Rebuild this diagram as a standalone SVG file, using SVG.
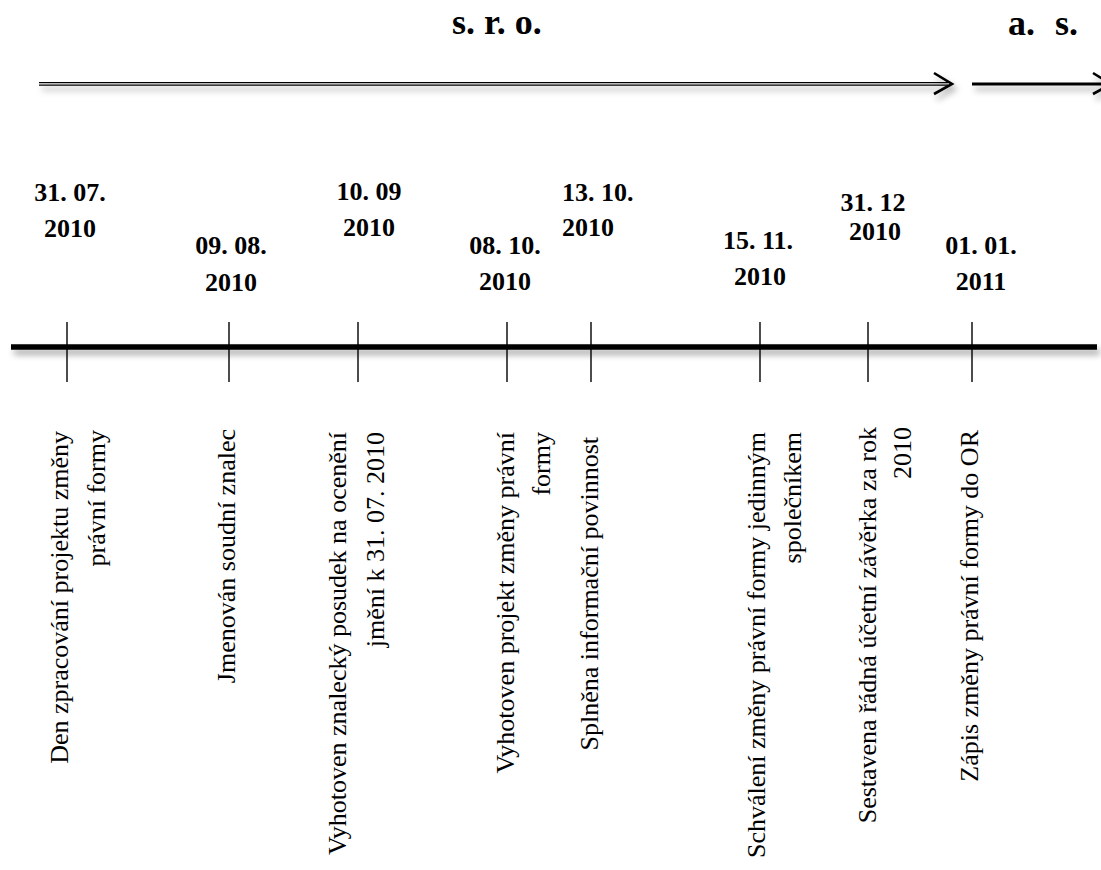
<svg xmlns="http://www.w3.org/2000/svg" width="1101" height="870" viewBox="0 0 1101 870">
<style>
.title{font-family:"Liberation Serif","Times New Roman",serif;font-weight:bold;font-size:36px;fill:#000}
.date{font-family:"Liberation Serif","Times New Roman",serif;font-weight:bold;font-size:26px;fill:#000;text-anchor:middle}
.lbl{font-family:"Liberation Serif","Times New Roman",serif;font-size:26px;fill:#000;text-anchor:end}
.tick{stroke:#000;stroke-width:1.4;fill:none}
.ln{stroke:#000;fill:none}
</style>
<defs>
<filter id="sh" filterUnits="userSpaceOnUse" x="0" y="0" width="1101" height="870">
<feDropShadow dx="3" dy="5" stdDeviation="3" flood-color="#000" flood-opacity="0.35"/>
</filter>
</defs>
<rect width="1101" height="870" fill="#fff"/>
<g id="titles">
<text class="title" x="452" y="34">s. r. o.</text>
<text class="title" x="1008" y="35">a. <tspan x="1055">s.</tspan></text>
</g>
<g id="connectors">
<g filter="url(#sh)">
<line class="ln" x1="39" y1="82.6" x2="948" y2="82.6" stroke-width="1.3"/>
<line class="ln" x1="39" y1="85.2" x2="948" y2="85.2" stroke-width="1.3"/>
<polyline class="ln" points="934,73 952,84 934,94" stroke-width="2.6"/>
</g>
<g filter="url(#sh)">
<line class="ln" x1="972" y1="84" x2="1104" y2="84" stroke-width="3"/>
<polyline class="ln" points="1093,73 1111,84 1093,94" stroke-width="2.6"/>
</g>
<line class="ln" x1="11" y1="347" x2="1097" y2="347" stroke-width="5.5" filter="url(#sh)"/>
<line class="tick" x1="67" y1="322" x2="67" y2="382"/>
<line class="tick" x1="229" y1="322" x2="229" y2="382"/>
<line class="tick" x1="358" y1="322" x2="358" y2="382"/>
<line class="tick" x1="507" y1="322" x2="507" y2="382"/>
<line class="tick" x1="591" y1="322" x2="591" y2="382"/>
<line class="tick" x1="760" y1="322" x2="760" y2="382"/>
<line class="tick" x1="868" y1="322" x2="868" y2="382"/>
<line class="tick" x1="972" y1="322" x2="972" y2="382"/>
</g>
<g id="n1">
<text class="date" x="70" y="201">31. 07.</text>
<text class="date" x="70" y="237">2010</text>
<text class="lbl" transform="translate(68,431) rotate(-90)">Den zpracování projektu změny</text>
<text class="lbl" transform="translate(105,430) rotate(-90)">právní formy</text>
</g>
<g id="n2">
<text class="date" x="231" y="254">09. 08.</text>
<text class="date" x="231" y="291">2010</text>
<text class="lbl" transform="translate(235,429) rotate(-90)">Jmenován soudní znalec</text>
</g>
<g id="n3">
<text class="date" x="369" y="200">10. 09</text>
<text class="date" x="369" y="236">2010</text>
<text class="lbl" transform="translate(346,432) rotate(-90)">Vyhotoven znalecký posudek na ocenění</text>
<text class="lbl" transform="translate(384,432) rotate(-90)">jmění k 31. 07. 2010</text>
</g>
<g id="n4">
<text class="date" x="505" y="254">08. 10.</text>
<text class="date" x="505" y="290">2010</text>
<text class="lbl" transform="translate(514,432) rotate(-90)">Vyhotoven projekt změny právní</text>
<text class="lbl" transform="translate(550,432) rotate(-90)">formy</text>
</g>
<g id="n5">
<text class="date" x="562" y="201" style="text-anchor:start">13. 10.</text>
<text class="date" x="562" y="236" style="text-anchor:start">2010</text>
<text class="lbl" transform="translate(598,437) rotate(-90)">Splněna informační povinnost</text>
</g>
<g id="n6">
<text class="date" x="758" y="249">15. 11.</text>
<text class="date" x="760" y="285">2010</text>
<text class="lbl" transform="translate(765,432) rotate(-90)">Schválení změny právní formy jedinným</text>
<text class="lbl" transform="translate(801,432) rotate(-90)">společníkem</text>
</g>
<g id="n7">
<text class="date" x="873" y="211">31. 12</text>
<text class="date" x="875" y="240">2010</text>
<text class="lbl" transform="translate(876,427) rotate(-90)">Sestavena řádná účetní závěrka za rok</text>
<text class="lbl" transform="translate(911,427) rotate(-90)">2010</text>
</g>
<g id="n8">
<text class="date" x="981" y="254">01. 01.</text>
<text class="date" x="981" y="290">2011</text>
<text class="lbl" transform="translate(978,430) rotate(-90)">Zápis změny právní formy do OR</text>
</g>
</svg>
